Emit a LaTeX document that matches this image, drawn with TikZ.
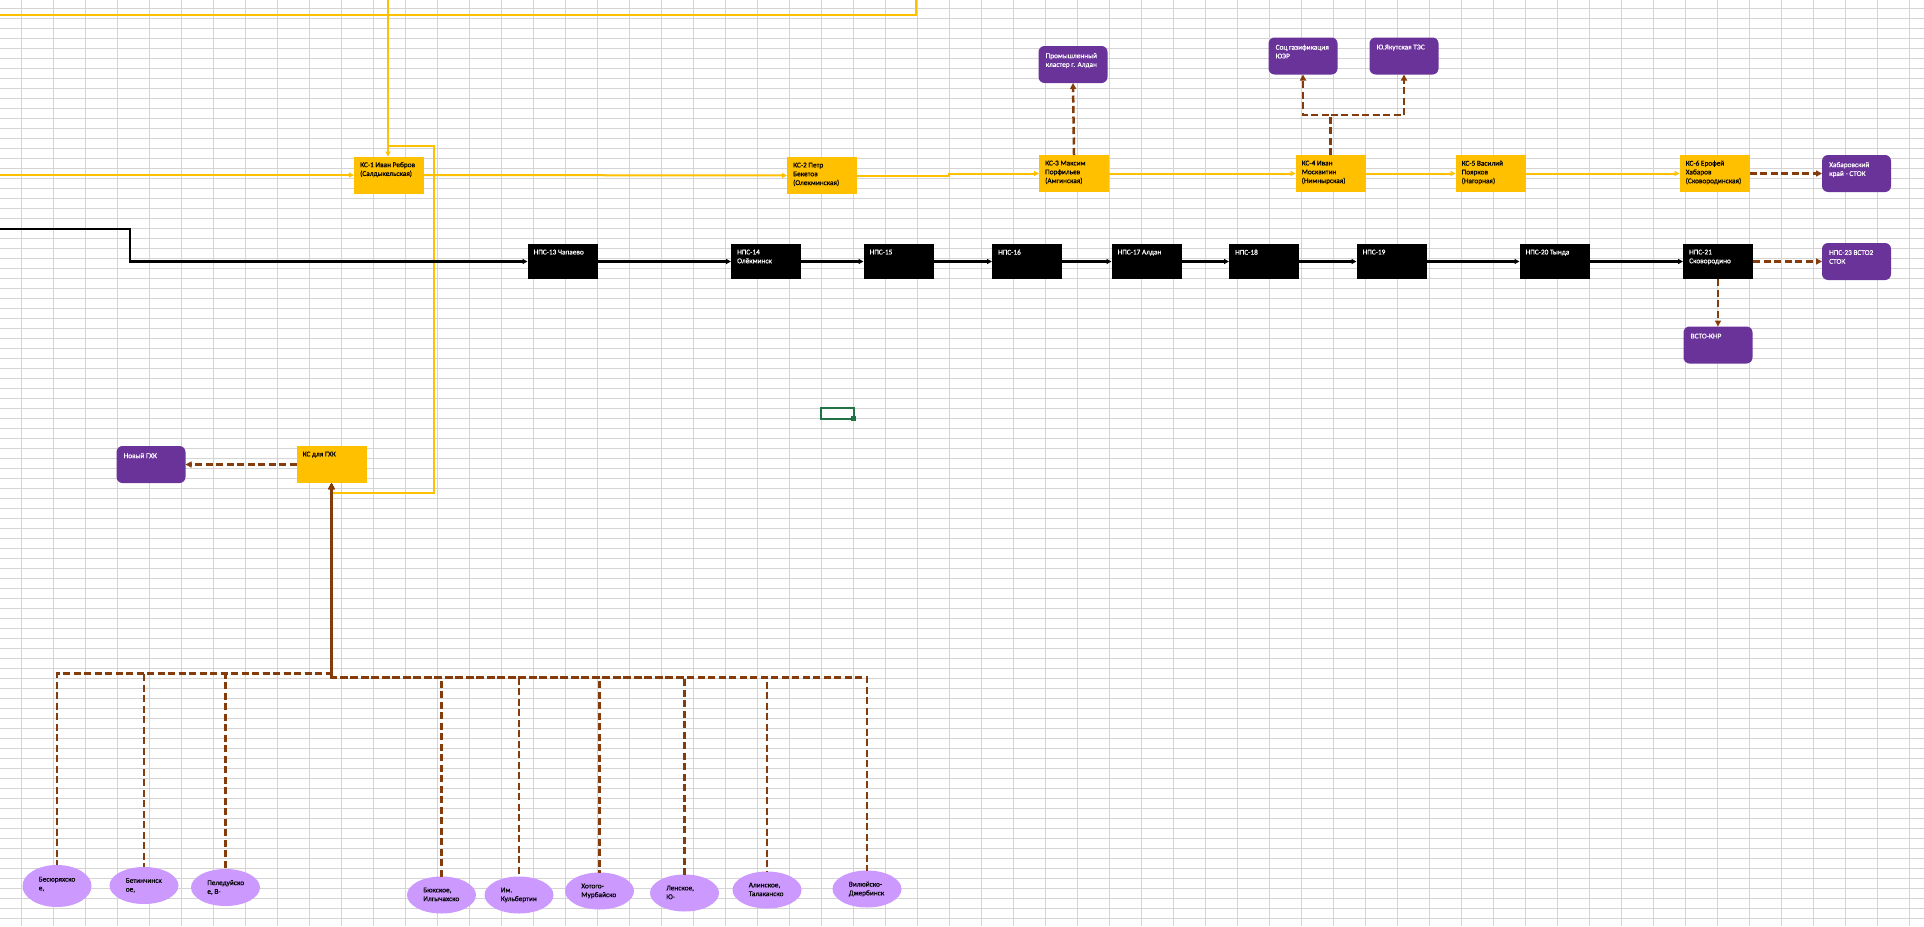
\documentclass[tikz,border=0pt]{standalone}
\usepackage{fontspec}
\setmainfont{Carlito}
\newfontfamily\shapefont{Carlito}[FakeBold = 0.6]
\usetikzlibrary{arrows.meta, shapes.geometric}

\definecolor{ksyellow}{HTML}{FFC000}
\definecolor{supplybrown}{HTML}{843C0C}
\definecolor{consumer}{HTML}{6A3399}
\definecolor{deposit}{HTML}{CC99FF}
\definecolor{cellgray}{HTML}{D4D4D4}
\definecolor{xlgreen}{HTML}{217346}

\tikzset{
  cell/.style = {cellgray, line width = 1},
  ktext/.style = {anchor = north west, inner xsep = 6, inner ysep = 5.5,
    font = \shapefont\fontsize{7.3}{8.8}\selectfont, align = left, text = black},
  wtext/.style = {ktext, text = white},
  utext/.style = {wtext, inner xsep = 7, inner ysep = 7},
  ks/.style = {fill = ksyellow, minimum width = 70, minimum height = 37, inner sep = 0, outer sep = 0},
  nps/.style = {fill = black, minimum width = 70, minimum height = 35, inner sep = 0, outer sep = 0},
  user/.style = {fill = consumer, rounded corners = 6, minimum width = 69, minimum height = 37, inner sep = 0, outer sep = 0},
  field/.style = {ellipse, fill = deposit, minimum width = 69, minimum height = 37, inner sep = 0, outer sep = 0},
  gasline/.style = {ksyellow, line width = 2},
  gas/.style = {gasline, -{Triangle[length = 5pt, width = 5pt]}},
  oil/.style = {black, line width = 2.2, -{Triangle[length = 5pt, width = 5pt]}},
  supply/.style = {supplybrown, line width = 2.5, dash pattern = on 7pt off 3.5pt,
    -{Triangle[length = 6pt, width = 6pt]}}
}

\begin{document}
\begin{tikzpicture}[x = 1pt, y = -1pt]
  \fill[white] (0, 0) rectangle (1924, 926);
  \useasboundingbox (0, 0) rectangle (1924, 926);
  \foreach \c in {0, ..., 59}
    \draw[cell] (21.5 + 32 * \c, 0) -- (21.5 + 32 * \c, 926);
  \foreach \r in {0, ..., 91}
    \draw[cell] (0, 8.3 + 10 * \r) -- (1924, 8.3 + 10 * \r);

  \node[ks, label = {[ktext]north west:{КС-1 Иван Ребров\\(Салдыкельская)}}] (KS1) at (389, 175) {};
  \node[ks, label = {[ktext]north west:{КС-2 Петр\\Бекетов\\(Олекминская)}}] (KS2) at (822, 175.5) {};
  \node[ks, label = {[ktext]north west:{КС-3 Максим\\Порфильев\\(Амгинская)}}] (KS3) at (1074, 173.5) {};
  \node[ks, label = {[ktext]north west:{КС-4 Иван\\Москвитин\\(Нимнырская)}}] (KS4) at (1330.5, 173.5) {};
  \node[ks, label = {[ktext]north west:{КС-5 Василий\\Поярков\\(Нагорная)}}] (KS5) at (1490.5, 173.5) {};
  \node[ks, label = {[ktext]north west:{КС-6 Ерофей\\Хабаров\\(Сковородинская)}}] (KS6) at (1714.5, 173.5) {};
  \node[ks, label = {[ktext]north west:{КС для ГХК}}] (KSGHK) at (331.5, 464.5) {};

  \node[nps, label = {[wtext]north west:{НПС-13 Чапаево}}] (NPS13) at (562.5, 261.5) {};
  \node[nps, label = {[wtext]north west:{НПС-14\\Олёкминск}}] (NPS14) at (766, 261.5) {};
  \node[nps, label = {[wtext]north west:{НПС-15}}] (NPS15) at (898.5, 261.5) {};
  \node[nps, label = {[wtext]north west:{НПС-16}}] (NPS16) at (1027, 261.5) {};
  \node[nps, label = {[wtext]north west:{НПС-17 Алдан}}] (NPS17) at (1146.5, 261.5) {};
  \node[nps, label = {[wtext]north west:{НПС-18}}] (NPS18) at (1264, 261.5) {};
  \node[nps, label = {[wtext]north west:{НПС-19}}] (NPS19) at (1391.5, 261.5) {};
  \node[nps, label = {[wtext]north west:{НПС-20 Тында}}] (NPS20) at (1554.5, 261.5) {};
  \node[nps, label = {[wtext]north west:{НПС-21\\Сковородино}}] (NPS21) at (1718, 261.5) {};

  \node[user, label = {[utext]north west:{Промышленный\\кластер г. Алдан}}] (Prom) at (1073, 64.5) {};
  \node[user, label = {[utext]north west:{Соц газификация\\ЮЭР}}] (Soc) at (1303, 56) {};
  \node[user, label = {[utext]north west:{Ю.Якутская ТЭС}}] (YuTES) at (1404, 56) {};
  \node[user, label = {[utext]north west:{Хабаровский\\край - СТОК}}] (Hab) at (1856.5, 173.5) {};
  \node[user, label = {[utext]north west:{НПС-23 ВСТО2\\СТОК}}] (NPS23) at (1856.5, 261.5) {};
  \node[user, label = {[utext]north west:{ВСТО-КНР}}] (VSTO) at (1718, 345) {};
  \node[user, label = {[utext]north west:{Новый ГХК}}] (NewGHK) at (151, 464.5) {};

  \node[field, minimum height = 42, label = {[ktext]north west:{Бесюряхско\\е,}}] (Bes) at (57, 886) {};
  \node[field, label = {[ktext]north west:{Бетинчинск\\ое,}}] (Bet) at (144, 885.5) {};
  \node[field, label = {[ktext]north west:{Пеледуйско\\е, В-}}] (Pel) at (225.5, 887.5) {};
  \node[field, label = {[ktext]north west:{Бюкское,\\Илгычахско}}] (Byuk) at (441.5, 895) {};
  \node[field, label = {[ktext]north west:{Им.\\Кульбертин}}] (Kulb) at (519, 895) {};
  \node[field, label = {[ktext]north west:{Хотого-\\Мурбайско}}] (Khot) at (599.5, 891) {};
  \node[field, label = {[ktext]north west:{Ленское,\\Ю-}}] (Len) at (684.5, 893) {};
  \node[field, label = {[ktext]north west:{Алинское,\\Талаканско}}] (Alin) at (767, 890) {};
  \node[field, label = {[ktext]north west:{Вилюйско-\\Джербинск}}] (Vil) at (867, 889) {};

  \coordinate (gasin) at (0, 175);
  \coordinate (gastop) at (0, 15);
  \coordinate (gasout) at (916, 0);
  \coordinate (gasfeed) at (388, 0);
  \coordinate (loop) at (388, 146);
  \coordinate (loopturn) at (433.5, 493);
  \coordinate (oilin) at (0, 229);
  \coordinate (oilbend) at (130, 229);
  \coordinate (split) at (1330.5, 115);
  \coordinate (busW) at (331.5, 673.5);
  \coordinate (busE) at (331.5, 677.5);

  \draw[gasline] (gastop) -| (gasout);
  \draw[gas] (gasfeed) -- (gasfeed |- KS1.north);
  \draw[gas] (loop) -| (loopturn) -| (KSGHK.south);
  \draw[gas] (gasin) -- (KS1.west);
  \draw[gas] (KS1.east) -- (KS2.west);
  \draw[gas] (KS2.east) -- ++(92, 0) |- (KS3.west);
  \draw[gas] (KS3.east) -- (KS4.west);
  \draw[gas] (KS4.east) -- (KS5.west);
  \draw[gas] (KS5.east) -- (KS6.west);

  \draw[oil] (oilin) -- (oilbend) |- (NPS13.west);
  \draw[oil] (NPS13.east) -- (NPS14.west);
  \draw[oil] (NPS14.east) -- (NPS15.west);
  \draw[oil] (NPS15.east) -- (NPS16.west);
  \draw[oil] (NPS16.east) -- (NPS17.west);
  \draw[oil] (NPS17.east) -- (NPS18.west);
  \draw[oil] (NPS18.east) -- (NPS19.west);
  \draw[oil] (NPS19.east) -- (NPS20.west);
  \draw[oil] (NPS20.east) -- (NPS21.west);

  \draw[supply] (KS3.north) -- (Prom.south);
  \draw[supply] (KS4.north) -- (split) -| (Soc.south);
  \draw[supply] (split) -| (YuTES.south);
  \draw[supply] (KS6.east) -- (Hab.west);
  \draw[supply] (NPS21.east) -- (NPS23.west);
  \draw[supply] (NPS21.south) -- (VSTO.north);
  \draw[supply] (KSGHK.west) -- (NewGHK.east);
  \foreach \f/\d in {Bes/2, Bet/3, Pel/9}
    \draw[supply, dash phase = \d pt] (\f.north) |- (busW) -- (KSGHK.south);
  \foreach \f/\d in {Byuk/0, Kulb/7.5, Khot/4.5, Len/0.5, Alin/6, Vil/1.5}
    \draw[supply, dash phase = \d pt] (\f.north) |- (busE) -- (KSGHK.south);

  \draw[xlgreen, line width = 2] (821, 408) rectangle (853.5, 418.5);
  \fill[xlgreen] (851, 416) rectangle (856, 421);
\end{tikzpicture}
\end{document}
